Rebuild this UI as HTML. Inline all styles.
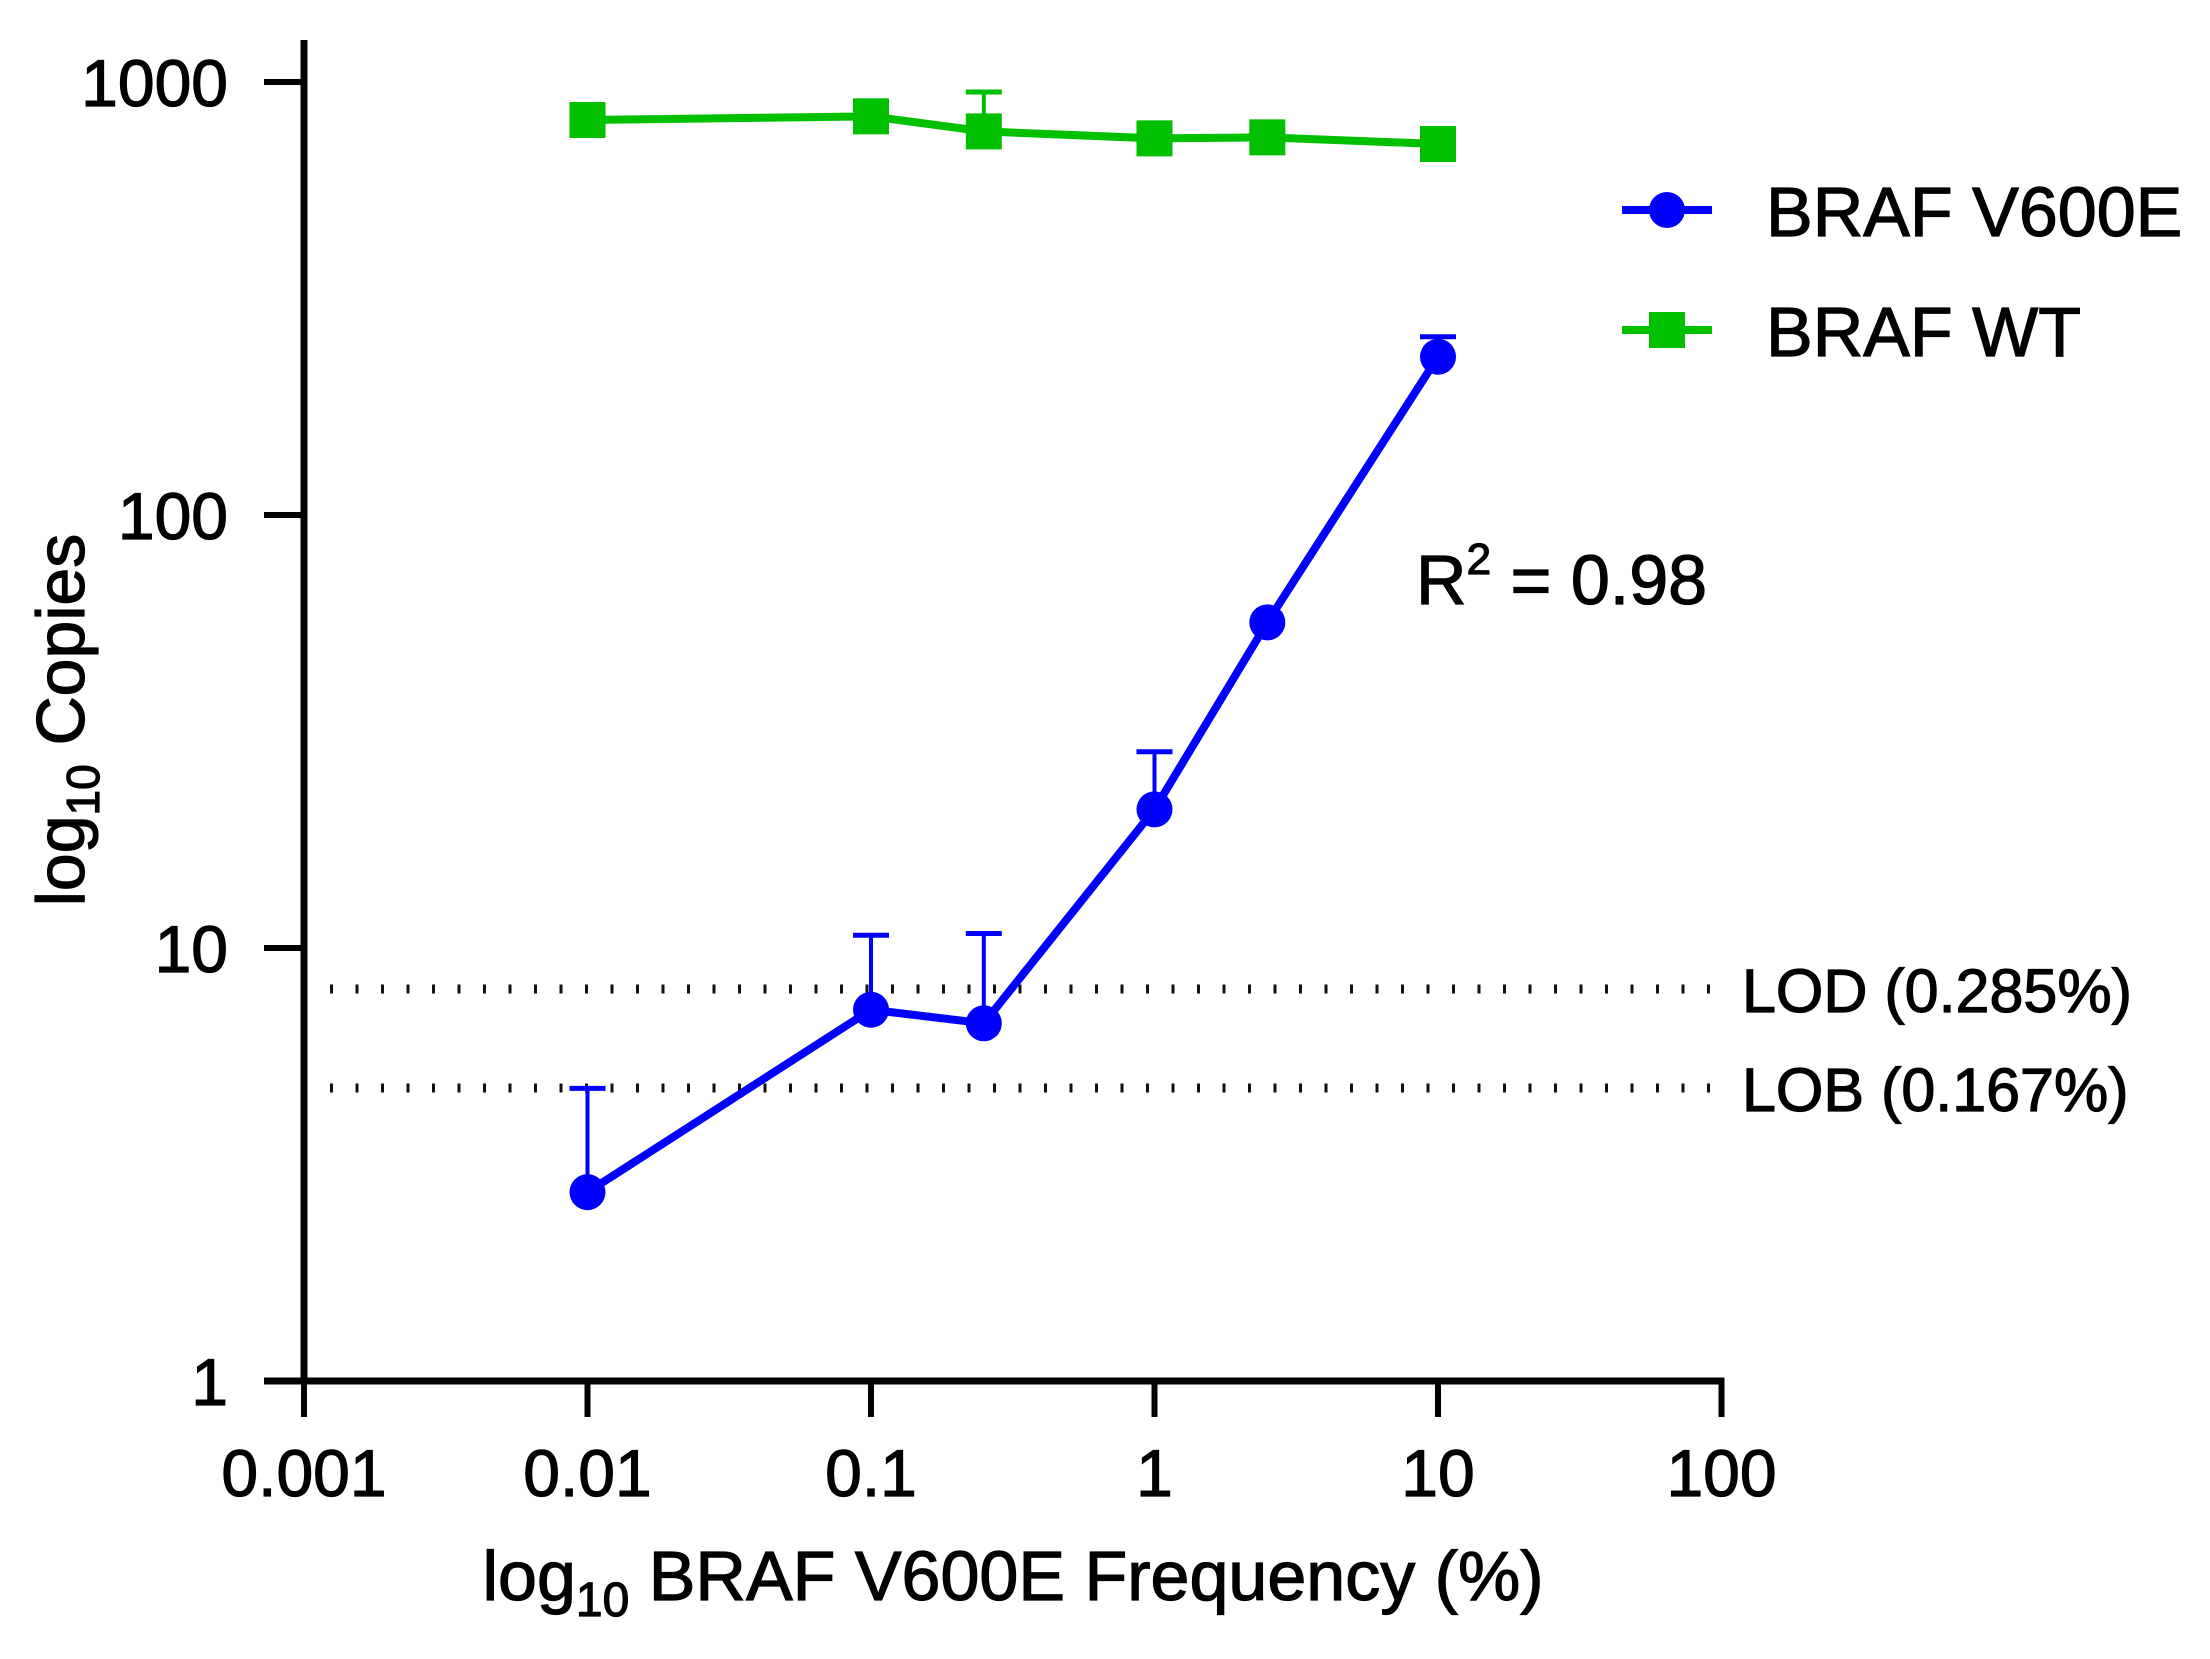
<!DOCTYPE html>
<html><head><meta charset="utf-8"><style>
html,body{margin:0;padding:0;background:#fff;}
svg{display:block;font-family:"Liberation Sans",Arial,sans-serif;}
text{stroke:#000;stroke-width:1.2px;}
</style></head><body>
<svg id="chart" width="2210" height="1659" viewBox="0 0 2210 1659" xmlns="http://www.w3.org/2000/svg">
<g id="grid"></g>
<g id="axes"></g>
<g id="series"></g>
<text transform="translate(84,720) rotate(-90)" text-anchor="middle" font-size="68">log<tspan font-size="46" dy="15">10</tspan><tspan dy="-15"> Copies</tspan></text>
<text x="1013" y="1600" text-anchor="middle" font-size="70">log<tspan font-size="48" dy="16">10</tspan><tspan dy="-16"> BRAF V600E Frequency (%)</tspan></text>
<text x="1416" y="604" font-size="70">R<tspan font-size="44" dy="-30">2</tspan><tspan dy="30"> = 0.98</tspan></text>
<g>
<line x1="1622" y1="210" x2="1712" y2="210" stroke="#0000ff" stroke-width="8"/>
<circle cx="1667" cy="210" r="18" fill="#0000ff"/>
<text x="1766" y="236" font-size="70">BRAF V600E</text>
<line x1="1622" y1="330" x2="1712" y2="330" stroke="#00c000" stroke-width="8"/>
<rect x="1649" y="312" width="36" height="36" fill="#00c000"/>
<text x="1766" y="356" font-size="70">BRAF WT</text>
</g>
</svg>
<script>
const xValues = [0.01, 0.1, 0.25, 1, 2.5, 10];
const v600eValues = [2.73, 7.2, 6.7, 20.9, 56.5, 232];
const v600eErrTop = [4.74, 10.7, 10.8, 28.4, 56.5, 258];
const wtValues = [817, 833, 769, 741, 745, 719];
const wtErrTop = [817, 833, 948, 741, 745, 719];
const xTicks = [0.001, 0.01, 0.1, 1, 10, 100];
const xTickLabels = ["0.001", "0.01", "0.1", "1", "10", "100"];
const yTicks = [1, 10, 100, 1000];
const yTickLabels = ["1", "10", "100", "1000"];
const refValues = [8.04, 4.75];
const refLabels = ["LOD (0.285%)", "LOB (0.167%)"];

const NS = "http://www.w3.org/2000/svg";
const X0 = 304, XD = 283.5, Y0 = 1381, YD = 433;
const xs = v => X0 + (Math.log10(v) + 3) * XD;
const ys = v => Y0 - Math.log10(v) * YD;
function mk(tag, attrs, parent, text) {
  const e = document.createElementNS(NS, tag);
  for (const k in attrs) e.setAttribute(k, attrs[k]);
  if (text !== undefined) e.textContent = text;
  parent.appendChild(e);
  return e;
}
const axes = document.getElementById('axes');
const grid = document.getElementById('grid');
const series = document.getElementById('series');

refValues.forEach((v, i) => {
  const l = mk('line', {x1: 330, x2: 1722, y1: ys(v), y2: ys(v), stroke: '#111', 'stroke-width': 9, 'stroke-dasharray': '3 22.5'}, grid);
  
  
  const t = mk('text', {x: 1742, y: ys(v) + 23, 'font-size': 61}, grid, refLabels[i]);
  
  
});

const ya = mk('line', {x1: X0, x2: X0, y1: 40, y2: Y0 + 3, stroke: '#000', 'stroke-width': 7}, axes);


const xa = mk('line', {x1: X0 - 40, x2: xs(100) + 3, y1: Y0, y2: Y0, stroke: '#000', 'stroke-width': 7}, axes);


xTicks.forEach((v, i) => {
  const tk = mk('line', {x1: xs(v), x2: xs(v), y1: Y0, y2: Y0 + 36, stroke: '#000', 'stroke-width': 6}, axes);
  
  
  const t = mk('text', {x: xs(v), y: Y0 + 115, 'font-size': 66, 'text-anchor': 'middle'}, axes, xTickLabels[i]);
  
  
});
yTicks.forEach((v, i) => {
  const tk = mk('line', {x1: X0 - 40, x2: X0, y1: ys(v), y2: ys(v), stroke: '#000', 'stroke-width': 6}, axes);
  
  
  const t = mk('text', {x: 228, y: ys(v) + 24, 'font-size': 66, 'text-anchor': 'end'}, axes, yTickLabels[i]);
  
  
});

function drawSeries(vals, errs, color, shape, name) {
  vals.forEach((v, i) => {
    if (errs[i] > v) {
      const e = mk('line', {x1: xs(xValues[i]), x2: xs(xValues[i]), y1: ys(v), y2: ys(errs[i]), stroke: color, 'stroke-width': 4}, series);
      
      
      const c = mk('line', {x1: xs(xValues[i]) - 18, x2: xs(xValues[i]) + 18, y1: ys(errs[i]), y2: ys(errs[i]), stroke: color, 'stroke-width': 5}, series);
      
      
    }
  });
  const pts = vals.map((v, i) => xs(xValues[i]) + ',' + ys(v)).join(' ');
  const pl = mk('polyline', {points: pts, fill: 'none', stroke: color, 'stroke-width': 8, 'stroke-linejoin': 'round'}, series);
  
  
  vals.forEach((v, i) => {
    let m;
    if (shape === 'circle') m = mk('circle', {cx: xs(xValues[i]), cy: ys(v), r: 18, fill: color}, series);
    else m = mk('rect', {x: xs(xValues[i]) - 18, y: ys(v) - 18, width: 36, height: 36, fill: color}, series);
    
    
  });
}
drawSeries(wtValues, wtErrTop, '#00c000', 'square', 'braf-wt');
drawSeries(v600eValues, v600eErrTop, '#0000ff', 'circle', 'braf-v600e');
</script>
</body></html>
